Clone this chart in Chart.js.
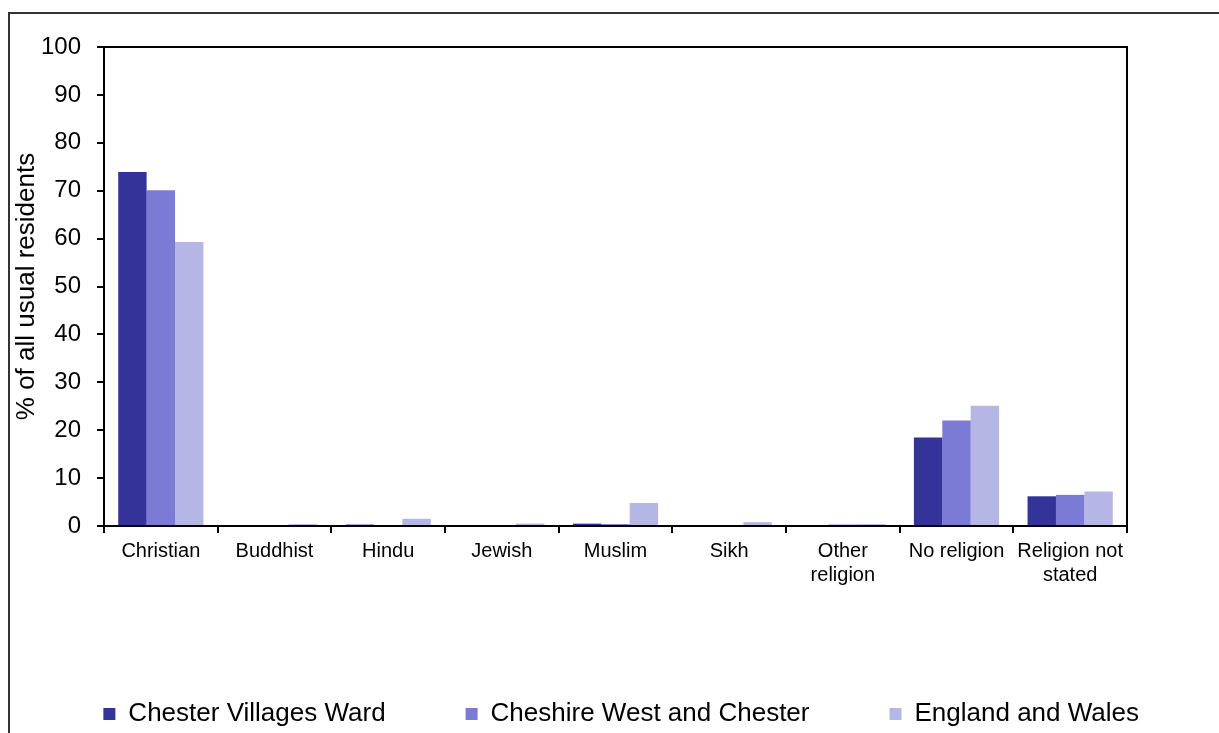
<!DOCTYPE html>
<html>
<head>
<meta charset="utf-8">
<script src="https://cdn.jsdelivr.net/npm/chart.js@4/dist/chart.umd.min.js"></script>
<style>
  html, body { margin: 0; padding: 0; background: #fff; }
  #wrap { position: relative; width: 1219px; height: 733px; overflow: hidden; }
  #frame { position: absolute; left: 8px; top: 12px; width: 1300px; height: 800px;
           border-top: 2px solid #333; border-left: 2px solid #333; }
  canvas { position: absolute; left: 0; top: 0; }
</style>
</head>
<body>
<div id="wrap">
  <div id="frame"></div>
  <canvas id="chart" width="1219" height="733"></canvas>
</div>
<script>
const categories = ['Christian', 'Buddhist', 'Hindu', 'Jewish', 'Muslim', 'Sikh',
  ['Other', 'religion'], 'No religion', ['Religion not', 'stated']];
const seriesNames = ['Chester Villages Ward', 'Cheshire West and Chester', 'England and Wales'];
const wardValues = [73.9, 0.1, 0.3, 0.1, 0.5, 0.0, 0.1, 18.5, 6.2];
const districtValues = [70.1, 0.1, 0.1, 0.1, 0.4, 0.1, 0.3, 22.0, 6.5];
const nationValues = [59.3, 0.4, 1.5, 0.5, 4.8, 0.8, 0.4, 25.1, 7.2];
const seriesColors = ['#333399', '#7b7bd5', '#b5b5e6'];

const FONT = 'Liberation Sans, Arial, sans-serif';

// outline round the plot area, and nudge the legend down a little
const plotBox = {
  id: 'plotBox',
  afterLayout(chart) {
    if (chart.legend) {
      chart.legend.top += 4;
      chart.legend.bottom += 4;
    }
  },
  afterDraw(chart) {
    const {ctx, chartArea: a} = chart;
    ctx.save();
    ctx.strokeStyle = '#000';
    ctx.lineWidth = 2;
    ctx.strokeRect(a.left, a.top, a.right - a.left, a.bottom - a.top);
    ctx.restore();
  }
};

new Chart(document.getElementById('chart'), {
  type: 'bar',
  data: {
    labels: categories,
    datasets: [wardValues, districtValues, nationValues].map((vals, i) => ({
      label: seriesNames[i],
      data: vals,
      backgroundColor: seriesColors[i],
      borderWidth: 0,
      categoryPercentage: 0.75,
      barPercentage: 1.0
    }))
  },
  options: {
    responsive: false,
    animation: false,
    devicePixelRatio: 1,
    layout: { padding: { top: 47, right: 0, left: 0, bottom: 0 } },
    plugins: {
      tooltip: { enabled: false },
      legend: {
        position: 'bottom',
        align: 'end',
        labels: {
          boxWidth: 12,
          boxHeight: 12,
          padding: 80,
          color: '#000',
          font: { family: FONT, size: 26, lineHeight: 1.0 }
        }
      }
    },
    scales: {
      x: {
        afterFit(scale) { scale.height = 91; },
        grid: { drawOnChartArea: false, offset: true, tickLength: 7, color: '#000', lineWidth: 2 },
        border: { color: '#000', width: 2 },
        ticks: {
          color: '#000', padding: 6, maxRotation: 0, autoSkip: false,
          font: { family: FONT, size: 20 }
        }
      },
      y: {
        min: 0,
        max: 100,
        afterFit(scale) { scale.width = 104; },
        grid: { drawOnChartArea: false, tickLength: 7, color: '#000', lineWidth: 2 },
        border: { color: '#000', width: 2 },
        ticks: {
          stepSize: 10, color: '#000', padding: 16,
          font: { family: FONT, size: 24 }
        },
        title: {
          display: true,
          text: '% of all usual residents',
          color: '#000',
          padding: { top: 11, bottom: 0 },
          font: { family: FONT, size: 26 }
        }
      },
      // empty spacer on the right so the legend can use the full width
      spacer: {
        type: 'linear',
        position: 'right',
        afterFit(scale) { scale.width = 92; },
        ticks: { display: false },
        grid: { display: false },
        border: { display: false }
      }
    }
  },
  plugins: [plotBox]
});
</script>
</body>
</html>
